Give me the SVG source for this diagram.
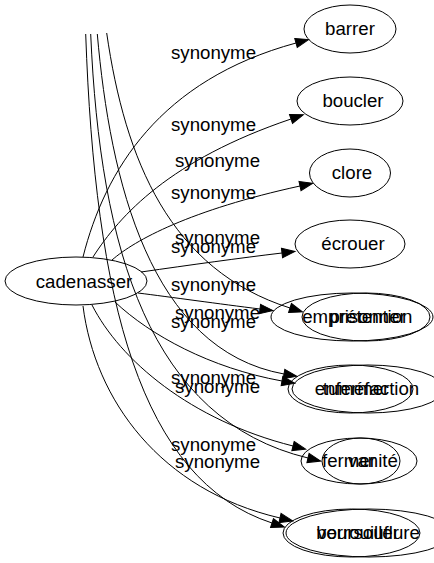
<svg xmlns="http://www.w3.org/2000/svg" width="434" height="563" viewBox="0 0 434 563">
<style>
.node ellipse{fill:none;stroke:#000;stroke-width:1}
.edge path{fill:none;stroke:#000;stroke-width:1;marker-end:url(#ah)}
text{font-family:"Liberation Sans",Arial,sans-serif;font-size:18.67px;fill:#000;text-anchor:middle}
.la{}
</style>
<defs>
<marker id="ah" markerUnits="userSpaceOnUse" markerWidth="14" markerHeight="10" refX="0" refY="5" orient="auto" overflow="visible">
<path d="M0,0.3 L13,5 L0,9.7 z" fill="#000" stroke="#000" stroke-width="1"/>
</marker>
</defs>
<rect width="434" height="563" fill="#fff"/>
<g id="edges">
<g class="edge" id="e-barrer"><path d="M83,257 C105,170 160,80 296,43"/><text x="213.5" y="59">synonyme</text></g>
<g class="edge" id="e-boucler"><path d="M93,257 C120,215 170,160 291,119"/><text x="213.5" y="131">synonyme</text></g>
<g class="edge" id="e-clore"><path d="M112,260 C135,240 190,210 300,186"/><text x="213.5" y="199">synonyme</text></g>
<g class="edge" id="e-ecrouer"><path d="M141,272 C190,265 240,258 282,253"/><text x="213.5" y="253">synonyme</text></g>
<g class="edge" id="e-emprisonner"><path d="M138,293 C170,297 220,304 260,309"/><text x="213.5" y="291">synonyme</text></g>
<g class="edge" id="e-enfermer"><path d="M115,302 C150,335 210,368 282,381"/><text x="213.5" y="328">synonyme</text></g>
<g class="edge" id="e-fermer"><path d="M92,305 C120,360 190,420 293,446"/><text x="213.5" y="384">synonyme</text></g>
<g class="edge" id="e-verrouiller"><path d="M83,306 C95,400 160,490 280,518"/><text x="213.5" y="451">synonyme</text></g>
<g class="edge" id="e-pretention"><path d="M106.7,33 C125,160 170,270 290,308"/><text x="217.5" y="167">synonyme</text></g>
<g class="edge" id="e-tumefaction"><path d="M97.3,34 C110,180 150,350 284,374"/><text x="217.5" y="244">synonyme</text></g>
<g class="edge" id="e-vanite"><path d="M90.7,34 C100,250 150,420 308,458"/><text x="217.5" y="319">synonyme</text></g>
<g class="edge" id="e-boursouflure"><path d="M85.7,34 C95,300 140,480 272,523"/><text x="217.5" y="393">synonyme</text></g>
<g class="edge" id="e-extra"><text x="217.5" y="468">synonyme</text></g>
</g>
<g id="n-cadenasser" class="node"><ellipse cx="76" cy="281" rx="71" ry="24"/><text x="84" y="288">cadenasser</text></g>
<g id="n-barrer" class="node"><ellipse cx="350" cy="29" rx="46" ry="24"/><text x="350" y="35">barrer</text></g>
<g id="n-boucler" class="node"><ellipse cx="350" cy="101" rx="53" ry="24"/><text x="353" y="107">boucler</text></g>
<g id="n-clore" class="node"><ellipse cx="350" cy="173" rx="40.5" ry="24"/><text x="352" y="179">clore</text></g>
<g id="n-ecrouer" class="node"><ellipse cx="350" cy="244" rx="55" ry="24"/><text x="353" y="250">écrouer</text></g>
<g id="n-emprisonner" class="node"><ellipse cx="352" cy="317" rx="81" ry="24"/><text x="354" y="323">emprisonner</text></g>
<g id="n-pretention" class="node"><ellipse cx="366" cy="317" rx="64" ry="24"/><text x="371" y="323">prétention</text></g>
<g id="n-enfermer" class="node"><ellipse cx="350.5" cy="389" rx="62.5" ry="24"/><text x="352" y="395">enfermer</text></g>
<g id="n-tumefaction" class="node"><ellipse cx="368" cy="389" rx="76" ry="24"/><text x="371" y="395">tuméfaction</text></g>
<g id="n-fermer" class="node"><ellipse cx="361" cy="461" rx="39" ry="23"/><text x="349" y="467">fermer</text></g>
<g id="n-vanite" class="node"><ellipse cx="359" cy="461" rx="58" ry="23"/><text x="373" y="467">vanité</text></g>
<g id="n-verrouiller" class="node"><ellipse cx="351.5" cy="533" rx="68.5" ry="24"/><text x="358" y="539">verrouiller</text></g>
<g id="n-boursouflure" class="node"><ellipse cx="369" cy="533" rx="83" ry="24"/><text x="368" y="539">boursouflure</text></g>
</svg>
